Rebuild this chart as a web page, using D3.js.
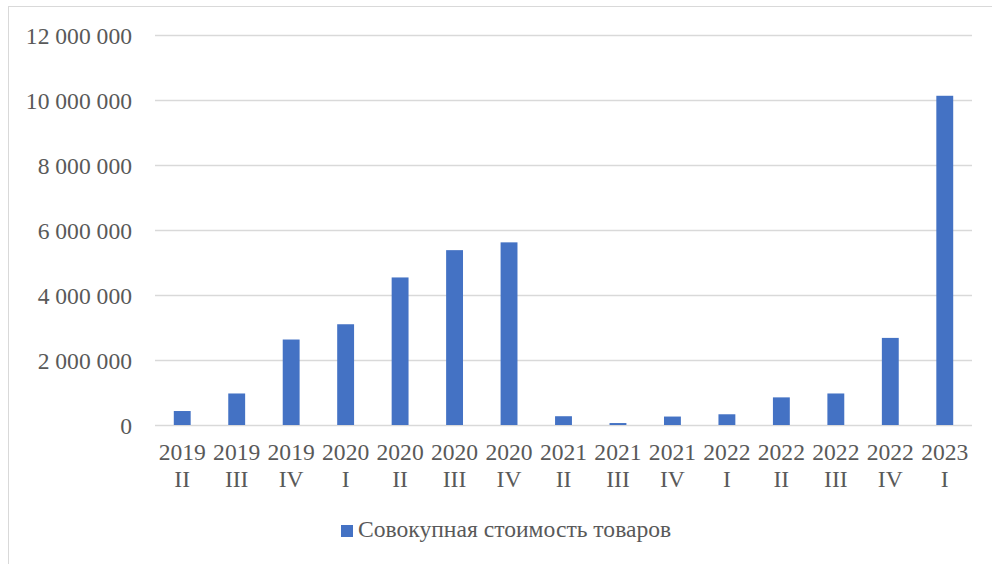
<!DOCTYPE html>
<html lang="ru">
<head>
<meta charset="utf-8">
<title>Совокупная стоимость товаров</title>
<script src="https://cdn.jsdelivr.net/npm/d3@7/dist/d3.min.js"></script>
<style>
  body { margin: 0; background: #fff; }
  svg text { font-family: "Liberation Serif", "Times New Roman", serif; fill: #595959; }
</style>
</head>
<body>
<script>
// quarters (year + roman quarter)
var years    = ["2019","2019","2019","2020","2020","2020","2020","2021","2021","2021","2022","2022","2022","2022","2023"];
var quarters = ["II","III","IV","I","II","III","IV","II","III","IV","I","II","III","IV","I"];
// values
var values   = [430000, 970000, 2630000, 3100000, 4540000, 5380000, 5620000,
                270000, 60000, 260000, 330000, 850000, 970000, 2680000, 10130000];
var yTicks   = [0, 2000000, 4000000, 6000000, 8000000, 10000000, 12000000];
var seriesName = "Совокупная стоимость товаров";

var w = 992, h = 564;
var plotLeft = 155, plotRight = 972, plotTop = 35, plotBottom = 425;
var fontSize = "23.6px";

var svg = d3.select("body").append("svg")
    .attr("width", w)
    .attr("height", h)
    .attr("font-family", "Liberation Serif");

// outer chart frame
svg.append("rect")
    .attr("x", 8.5).attr("y", 6.5)
    .attr("width", 1000).attr("height", 600)
    .attr("fill", "none")
    .attr("stroke", "#d9d9d9")
    .attr("stroke-width", 1);

var keys = values.map(function(d, i) { return i; });

var x = d3.scaleBand()
    .domain(keys)
    .range([plotLeft, plotRight])
    .paddingInner(0.69)
    .paddingOuter(0.345);

var y = d3.scaleLinear()
    .domain([0, 12000000])
    .range([plotBottom, plotTop]);

var fmt = function(v) { return d3.format(",")(v).replace(/,/g, " "); };

// gridlines + y labels
var yAxis = d3.axisLeft(y)
    .tickValues(yTicks)
    .tickSize(-(plotRight - plotLeft))
    .tickPadding(23)
    .tickFormat(fmt);

var gy = svg.append("g")
    .attr("transform", "translate(" + plotLeft + ",0)")
    .call(yAxis)
    .attr("font-family", null)
    .attr("font-size", null);
gy.select(".domain").remove();
gy.selectAll(".tick line")
    .attr("stroke", "#d9d9d9")
    .attr("stroke-width", 1.4);
gy.selectAll(".tick text")
    .style("font-size", fontSize)
    .attr("dy", "0.35em");

// bars
svg.selectAll("rect.bar")
    .data(values)
    .enter()
    .append("rect")
    .attr("class", "bar")
    .attr("x", function(d, i) { return x(i); })
    .attr("y", function(d) { return y(d); })
    .attr("width", x.bandwidth())
    .attr("height", function(d) { return plotBottom - y(d); })
    .attr("fill", "#4472c4");

// x labels, two lines
var xl = svg.selectAll("text.xlab")
    .data(keys)
    .enter()
    .append("text")
    .attr("class", "xlab")
    .attr("text-anchor", "middle")
    .style("font-size", fontSize);
xl.append("tspan")
    .attr("x", function(i) { return x(i) + x.bandwidth() / 2; })
    .attr("y", 460)
    .text(function(i) { return years[i]; });
xl.append("tspan")
    .attr("x", function(i) { return x(i) + x.bandwidth() / 2; })
    .attr("y", 487)
    .text(function(i) { return quarters[i]; });

// legend
svg.append("rect")
    .attr("x", 341).attr("y", 525)
    .attr("width", 12).attr("height", 12)
    .attr("fill", "#4472c4");
svg.append("text")
    .attr("x", 358).attr("y", 537)
    .style("font-size", fontSize)
    .text(seriesName);
</script>
</body>
</html>
